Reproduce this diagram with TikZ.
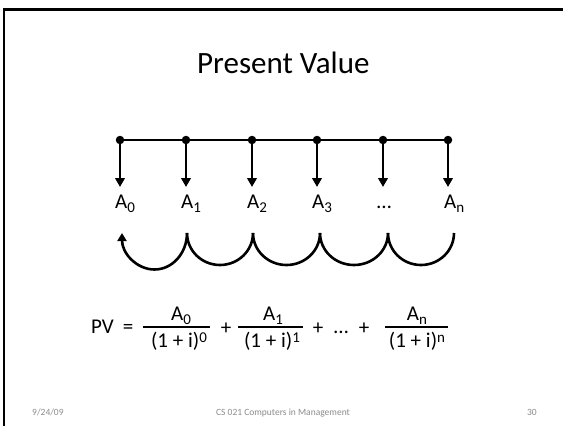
\documentclass[tikz,border=0pt]{standalone}
\usepackage{fontspec}
\setmainfont{Carlito}
\usetikzlibrary{arrows.meta}
\definecolor{foot}{HTML}{8C8C8C}
\definecolor{shade}{HTML}{A6A6A6}
\newcommand\lowidx[1]{\raisebox{-4pt}{\fontsize{15}{15}\selectfont #1}}
\newcommand\highidx[1]{\raisebox{4.5pt}{\fontsize{15}{15}\selectfont #1}}
\begin{document}
\begin{tikzpicture}[x=1pt,y=1pt,
  heavy/.style={line width=2.6pt},
  tip/.style={heavy,-{Triangle[length=9pt,width=9.5pt]}},
  curvetip/.style={heavy,-{Triangle[length=8pt,width=9pt]}},
  dotmark/.style={circle,fill=black,inner sep=0pt,minimum size=8.5pt},
  lab/.style={font=\fontsize{21}{24}\selectfont,inner sep=0pt},
  barline/.style={line width=1.6pt},
  foottext/.style={font=\fontsize{9.5}{11}\selectfont,text=foot,inner sep=0pt}]
\useasboundingbox (0,0) rectangle (563,-426);
\fill[white] (0,0) rectangle (563,-426);
% slide frame
\draw[shade,line width=1pt] (4.7,-10.6) -- (563,-10.6);
\draw[line width=2pt] (3.7,-426) -- (3.7,-9) -- (563,-9);
% title
\node[anchor=base west,inner sep=0pt,font=\fontsize{31}{36}\selectfont] (title) at (197,-73) {Present Value};
% timeline
\foreach \i/\x in {0/120,1/186,2/252,3/317,4/383,5/448}{
  \coordinate (d\i) at (\x,-140);
  \coordinate (t\i) at (\x,-187);
}
\draw[heavy] (d0) -- (d5);
\foreach \i in {0,...,5}{
  \draw[tip] (d\i) -- (t\i);
  \node[dotmark] (m\i) at (d\i) {};
}
% labels
\node[lab,anchor=base west] (l0) at (115,-208) {A\lowidx{0}};
\node[lab,anchor=base west] (l1) at (181,-208) {A\lowidx{1}};
\node[lab,anchor=base west] (l2) at (247,-208) {A\lowidx{2}};
\node[lab,anchor=base west] (l3) at (312,-208) {A\lowidx{3}};
\node[lab,anchor=base] (l4) at (384,-208) {…};
\node[lab,anchor=base west] (l5) at (444,-208) {A\lowidx{n}};
% discounting arcs
\coordinate (a1) at (187,-233);
\coordinate (a2) at (253,-233);
\coordinate (a3) at (320,-233);
\coordinate (a4) at (388,-233);
\coordinate (a5) at (454,-233);
\draw[heavy] (a5) arc[start angle=0,end angle=-180,x radius=33,y radius=32];
\draw[heavy] (a4) arc[start angle=0,end angle=-180,x radius=34,y radius=32];
\draw[heavy] (a3) arc[start angle=0,end angle=-180,x radius=33.5,y radius=32];
\draw[heavy] (a2) arc[start angle=0,end angle=-180,x radius=33,y radius=32];
\draw[curvetip] (a1) arc[start angle=0,end angle=-180,x radius=32.5,y radius=36.5];
% formula
\node[lab,anchor=base west] (pv) at (91,-333) {PV};
\node[lab,anchor=base] (eq) at (128,-333) {=};
\coordinate (b1l) at (143,-327); \coordinate (b1r) at (210,-327);
\coordinate (b2l) at (238,-327); \coordinate (b2r) at (303,-327);
\coordinate (b3l) at (385,-327); \coordinate (b3r) at (448,-327);
\draw[barline] (b1l) -- (b1r);
\draw[barline] (b2l) -- (b2r);
\draw[barline] (b3l) -- (b3r);
\node[lab,anchor=base] (n1) at (181,-320) {A\lowidx{0}};
\node[lab,anchor=base] (n2) at (273,-320) {A\lowidx{1}};
\node[lab,anchor=base] (n3) at (417,-320) {A\lowidx{n}};
\node[lab,anchor=base] (q1) at (179,-347) {(1 + i)\highidx{0}};
\node[lab,anchor=base] (q2) at (272,-347) {(1 + i)\highidx{1}};
\node[lab,anchor=base] (q3) at (417,-347) {(1 + i)\highidx{n}};
\node[lab,anchor=base] (p1) at (226,-334) {+};
\node[lab,anchor=base] (p2) at (318,-334) {+};
\node[lab,anchor=base] (el) at (341,-333) {…};
\node[lab,anchor=base] (p3) at (364,-334) {+};
% footer
\node[foottext,anchor=base west] (date) at (32,-415) {9/24/09};
\node[foottext,anchor=base] (course) at (283,-415) {CS 021 Computers in Management};
\node[foottext,anchor=base east] (page) at (537,-415) {30};
\end{tikzpicture}
\end{document}
